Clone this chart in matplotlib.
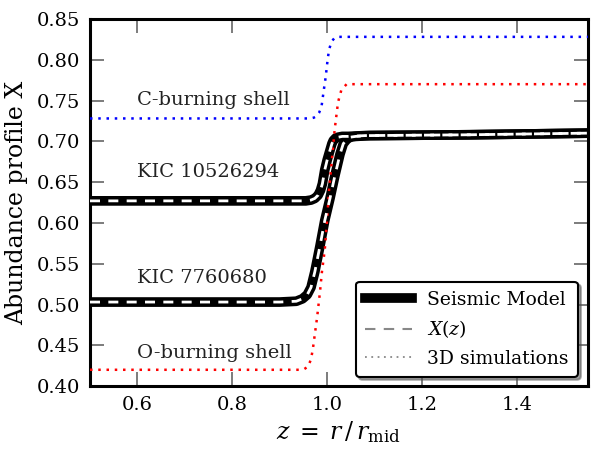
import matplotlib
matplotlib.use("Agg")
import matplotlib.pyplot as plt
from matplotlib.lines import Line2D

# --- data ---
z_kic1 = [0.50, 0.90, 0.955, 0.966, 0.974, 0.981, 0.986, 0.990, 0.995, 1.000, 1.006, 1.010, 1.013, 1.018, 1.023, 1.032, 1.045, 1.08, 1.30, 1.55]
x_kic1 = [0.627, 0.627, 0.627, 0.628, 0.630, 0.634, 0.640, 0.648, 0.665, 0.677, 0.689, 0.697, 0.701, 0.704, 0.705, 0.706, 0.706, 0.707, 0.708, 0.710]

z_kic2 = [0.50, 0.90, 0.935, 0.948, 0.958, 0.966, 0.974, 0.985, 0.995, 1.006, 1.016, 1.027, 1.034, 1.041, 1.048, 1.06, 1.09, 1.30, 1.55]
x_kic2 = [0.503, 0.503, 0.504, 0.507, 0.512, 0.521, 0.540, 0.572, 0.603, 0.630, 0.657, 0.684, 0.697, 0.702, 0.705, 0.706, 0.707, 0.708, 0.710]

z_cshell = [0.50, 0.965, 0.972, 0.978, 0.983, 0.988, 0.993, 0.997, 1.001, 1.004, 1.009, 1.016, 1.025, 1.037, 1.55]
x_cshell = [0.728, 0.728, 0.729, 0.731, 0.735, 0.742, 0.763, 0.779, 0.800, 0.812, 0.822, 0.827, 0.828, 0.828, 0.828]

z_oshell = [0.50, 0.943, 0.952, 0.960, 0.966, 0.970, 0.979, 0.985, 0.989, 0.995, 1.000, 1.004, 1.012, 1.016, 1.023, 1.030, 1.041, 1.55]
x_oshell = [0.420, 0.420, 0.421, 0.424, 0.433, 0.446, 0.485, 0.516, 0.540, 0.567, 0.605, 0.640, 0.690, 0.715, 0.748, 0.763, 0.770, 0.770]

labels = ["C-burning shell", "KIC 10526294", "KIC 7760680", "O-burning shell"]
label_y = [0.751, 0.662, 0.533, 0.441]
label_x = 0.60

legend_labels = ["Seismic Model", r"$X(z)$", "3D simulations"]
xticks = [0.6, 0.8, 1.0, 1.2, 1.4]
yticks = [0.40, 0.45, 0.50, 0.55, 0.60, 0.65, 0.70, 0.75, 0.80, 0.85]

plt.rcParams['font.family'] = ['DejaVu Serif']
plt.rcParams['mathtext.fontset'] = 'dejavuserif'

fig = plt.figure(figsize=(6, 4.5), dpi=100)
ax = fig.add_axes([0.15, 0.142, 0.83, 0.816])

dots = (0, (1, 2.3))
dash = (0, (3.6, 3.0))
for z, x in [(z_kic1, x_kic1), (z_kic2, x_kic2)]:
    ax.plot(z, x, color='black', lw=7, solid_capstyle='butt',
            solid_joinstyle='round', zorder=2)
ax.plot(z_cshell, x_cshell, color='blue', lw=1.8, linestyle=dots, zorder=3)
ax.plot(z_oshell, x_oshell, color='red', lw=1.8, linestyle=dots, zorder=3)
for z, x in [(z_kic1, x_kic1), (z_kic2, x_kic2)]:
    ax.plot(z, x, color='white', lw=2.0, linestyle=dash, zorder=4)

for t, y in zip(labels, label_y):
    ax.text(label_x, y, t, fontsize=14, ha='left', va='center', color='#222222')

ax.set_xlim(0.5, 1.55)
ax.set_ylim(0.40, 0.85)
ax.set_xticks(xticks)
ax.set_yticks(yticks)
ax.set_xticklabels([f"{v:.1f}" for v in xticks])
ax.set_yticklabels([f"{v:.2f}" for v in yticks])
ax.tick_params(direction='in', length=10, width=1.2, color='#666666',
               labelsize=14, top=True, right=True, pad=7)
for s in ax.spines.values():
    s.set_linewidth(2.2)

ax.set_xlabel(r"$z\;=\;r\,/\,r_{\rm mid}$", fontsize=17, labelpad=4)
ax.set_ylabel("Abundance profile X", fontsize=17, labelpad=6)

handles = [Line2D([], [], color='black', lw=7),
           Line2D([], [], color='#888888', lw=1.5, linestyle=(0, (5, 4))),
           Line2D([], [], color='#888888', lw=1.3, linestyle=(0, (1, 2.5)))]
leg = ax.legend(handles, legend_labels, loc='lower right', fontsize=13.5,
                fancybox=True, shadow=True, framealpha=1, edgecolor='black',
                handlelength=2.5, borderpad=0.5, labelspacing=0.5,
                borderaxespad=0, bbox_to_anchor=(0.98, 0.025))
leg.get_frame().set_linewidth(1.5)

fig.savefig("out.png", dpi=100)
